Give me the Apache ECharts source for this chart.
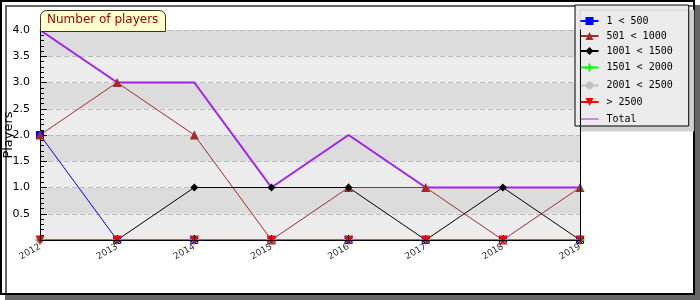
<!DOCTYPE html>
<html>
<head>
<meta charset="utf-8">
<script src="https://cdn.jsdelivr.net/npm/echarts@6/dist/echarts.min.js"></script>
<style>
  html, body { margin: 0; padding: 0; background: #fff; }
  #chart { width: 700px; height: 300px; }
</style>
</head>
<body>
<div id="chart"></div>
<script>
// data
var years = ['2012', '2013', '2014', '2015', '2016', '2017', '2018', '2019']
var lt500 = [2, 0, 0, 0, 0, 0, 0, 0]
var lt1000 = [2, 3, 2, 0, 1, 1, 0, 1]
var lt1500 = [0, 0, 1, 1, 1, 0, 1, 0]
var lt2000 = [0, 0, 0, 0, 0, 0, 0, 0]
var lt2500 = [0, 0, 0, 0, 0, 0, 0, 0]
var gt2500 = [0, 0, 0, 0, 0, 0, 0, 0]
var total = [4, 3, 3, 1, 2, 1, 1, 1]
var yTicks = [0, 0.5, 1, 1.5, 2, 2.5, 3, 3.5, 4]

var chart = echarts.init(document.getElementById('chart'))

function line(name, data, color, symbol, size, width, extra) {
  var s = {
    name: name,
    type: 'line',
    data: data,
    symbol: symbol,
    symbolSize: size,
    showSymbol: symbol !== 'none',
    animation: false,
    lineStyle: { color: color, width: width },
    itemStyle: { color: color }
  }
  return Object.assign(s, extra || {})
}

chart.setOption({
  animation: false,
  graphic: [
    {
      type: 'rect',
      z: -10,
      shape: { x: 1, y: 1, width: 693, height: 293 },
      style: { fill: '#fff', stroke: '#000', lineWidth: 2, shadowColor: '#666', shadowOffsetX: 5, shadowOffsetY: 5, shadowBlur: 0 }
    }
  ],
  title: {
    text: 'Number of players',
    left: 40,
    top: 10,
    backgroundColor: '#ffffcc',
    borderColor: '#333',
    borderWidth: 1,
    borderRadius: [6, 6, 0, 0],
    padding: [4, 7, 6, 7],
    textStyle: { color: '#990000', fontSize: 12, fontWeight: 'normal', fontFamily: 'DejaVu Sans' }
  },
  legend: {
    orient: 'vertical',
    left: 575,
    top: 5,
    padding: [11, 16, 0, 3],
    itemWidth: 18,
    itemHeight: 10,
    itemGap: 5,
    backgroundColor: '#ebebeb',
    borderColor: '#000',
    borderWidth: 1,
    shadowColor: '#d0d0d0',
    shadowOffsetX: 5,
    shadowOffsetY: 5,
    shadowBlur: 0,
    textStyle: { fontFamily: 'DejaVu Sans Mono', fontSize: 10, color: '#000', padding: [0, 0, 0, 3] },
    data: [
      '1 < 500', '501 < 1000', '1001 < 1500', '1501 < 2000', '2001 < 2500', '> 2500',
      {
        name: 'Total',
        icon: 'path://M0,0L0,0M0,5L20,5M20,10L20,10',
        itemStyle: { color: 'none', borderColor: '#a020f0', borderWidth: 1 }
      }
    ]
  },
  grid: {
    left: 40,
    top: 30,
    width: 540,
    height: 210,
    outerBoundsMode: 'none',
    containLabel: false
  },
  xAxis: [
    {
      type: 'category',
      data: years,
      boundaryGap: false,
      z: 5,
      axisLine: { lineStyle: { color: '#000', width: 1 } },
      axisTick: { inside: true, length: 5, lineStyle: { color: '#000' } },
      axisLabel: { rotate: 30, fontSize: 9, color: '#333', margin: 6, fontFamily: 'DejaVu Sans' },
      splitLine: { show: false }
    },
    {
      type: 'category',
      data: years,
      position: 'top',
      boundaryGap: false,
      z: 5,
      axisLine: { lineStyle: { color: '#000' } },
      axisTick: { show: false },
      axisLabel: { show: false }
    }
  ],
  yAxis: [
    {
      type: 'value',
      min: yTicks[0],
      max: yTicks[yTicks.length - 1],
      interval: 0.5,
      name: 'Players',
      nameLocation: 'middle',
      nameGap: 25,
      nameMoveOverlap: false,
      nameRotate: 90,
      nameTextStyle: { fontSize: 13, color: '#000', fontFamily: 'DejaVu Sans' },
      axisLine: { show: true, lineStyle: { color: '#000' } },
      axisTick: { show: true, inside: true, length: 7, lineStyle: { color: '#000' } },
      minorTick: { show: true, splitNumber: 5, length: 4, lineStyle: { color: '#000' } },
      axisLabel: {
        fontSize: 11,
        color: '#000',
        margin: 10,
        fontFamily: 'DejaVu Sans',
        formatter: function (v) { return v === 0 ? '' : v.toFixed(1) }
      },
      splitLine: { show: true, lineStyle: { color: '#bbb', type: [5, 3] } },
      splitArea: { show: true, areaStyle: { color: ['#ececec', '#dcdcdc'] } }
    },
    {
      type: 'value',
      position: 'right',
      min: yTicks[0],
      max: yTicks[yTicks.length - 1],
      interval: 0.5,
      z: 5,
      axisLine: { show: true, lineStyle: { color: '#000' } },
      axisTick: { show: false },
      axisLabel: { show: false },
      splitLine: { show: false }
    }
  ],
  series: [
    line('1 < 500', lt500, '#0000ff', 'rect', 8, 1),
    line('501 < 1000', lt1000, '#a52a2a', 'triangle', 9, 1),
    line('1001 < 1500', lt1500, '#000000', 'diamond', 8, 1),
    line('1501 < 2000', lt2000, '#00ff00', 'path://M5,0L5,10M0,5L10,5', 10, 1, {
      itemStyle: { color: 'none', borderColor: '#00ff00', borderWidth: 1 }
    }),
    line('2001 < 2500', lt2500, '#c0c0c0', 'path://M5,0L5,10M0,5L10,5M1.5,1.5L8.5,8.5M8.5,1.5L1.5,8.5', 10, 1, {
      itemStyle: { color: 'none', borderColor: '#c0c0c0', borderWidth: 1 }
    }),
    line('> 2500', gt2500, '#ff0000', 'path://M0,0L10,0L5,9Z', 9, 1),
    line('Total', total, '#a020f0', 'none', 0, 2)
  ]
})
</script>
</body>
</html>
